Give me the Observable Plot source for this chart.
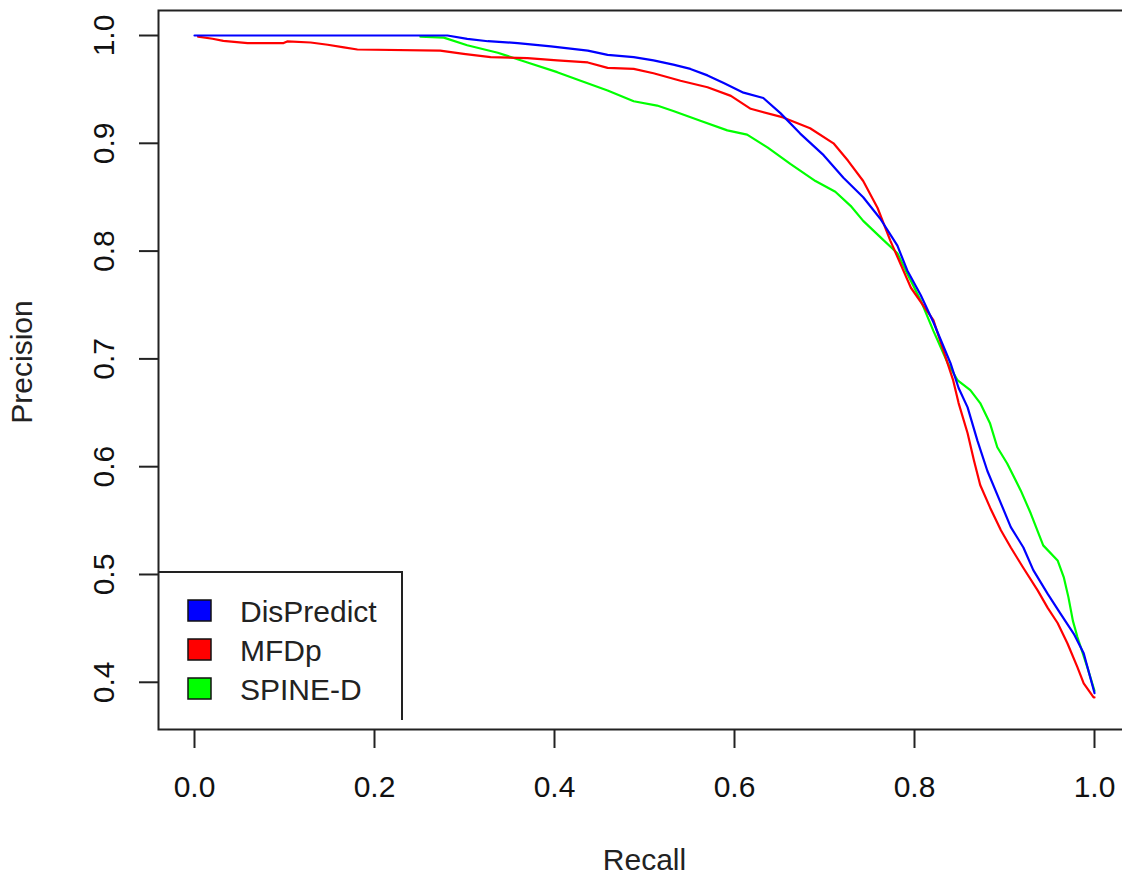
<!DOCTYPE html>
<html>
<head>
<meta charset="utf-8">
<script src="https://cdn.jsdelivr.net/npm/d3@7"></script>
<script src="https://cdn.jsdelivr.net/npm/@observablehq/plot@0.6"></script>
<style>
  html, body { margin: 0; padding: 0; overflow: hidden; background: white; }
  #wrap { position: relative; width: 1122px; height: 876px; overflow: hidden; }
  #wrap > svg { max-width: none !important; }
  #legend { position: absolute; left: 0; top: 0; pointer-events: none; }
</style>
</head>
<body>
<div id="wrap"></div>
<script>
// ---- data ----
const methods = ["DisPredict", "MFDp", "SPINE-D"];
const methodColors = ["#0000ff", "#ff0000", "#00ff00"];
const xTicks = [0, 0.2, 0.4, 0.6, 0.8, 1.0];
const yTicks = [0.4, 0.5, 0.6, 0.7, 0.8, 0.9, 1.0];

const disPredictRecall = [0, 0.281, 0.303, 0.326, 0.359, 0.396, 0.437, 0.459, 0.488, 0.510, 0.532, 0.551, 0.570, 0.588, 0.610, 0.632, 0.651, 0.673, 0.699, 0.721, 0.743, 0.762, 0.781, 0.792, 0.807, 0.821, 0.840, 0.849, 0.859, 0.870, 0.881, 0.896, 0.907, 0.921, 0.932, 0.948, 0.962, 0.977, 0.988, 1.0];
const disPredictPrecision = [1.0, 1.0, 0.9968, 0.9947, 0.993, 0.990, 0.986, 0.982, 0.980, 0.977, 0.973, 0.969, 0.963, 0.956, 0.947, 0.942, 0.928, 0.909, 0.889, 0.868, 0.850, 0.830, 0.805, 0.782, 0.759, 0.734, 0.696, 0.673, 0.655, 0.624, 0.596, 0.566, 0.544, 0.525, 0.504, 0.482, 0.464, 0.445, 0.427, 0.390];

const mfdpRecall = [0.004, 0.020, 0.032, 0.059, 0.099, 0.103, 0.129, 0.148, 0.166, 0.181, 0.273, 0.299, 0.329, 0.370, 0.403, 0.437, 0.459, 0.488, 0.510, 0.540, 0.570, 0.596, 0.618, 0.654, 0.684, 0.710, 0.726, 0.743, 0.759, 0.773, 0.796, 0.821, 0.843, 0.849, 0.859, 0.866, 0.873, 0.884, 0.896, 0.907, 0.921, 0.937, 0.948, 0.959, 0.970, 0.981, 0.988, 0.999, 1.0];
const mfdpPrecision = [0.999, 0.997, 0.995, 0.993, 0.993, 0.9945, 0.9935, 0.9914, 0.989, 0.987, 0.986, 0.983, 0.980, 0.979, 0.977, 0.975, 0.970, 0.969, 0.965, 0.958, 0.952, 0.944, 0.932, 0.924, 0.914, 0.900, 0.884, 0.865, 0.840, 0.810, 0.766, 0.736, 0.680, 0.659, 0.631, 0.606, 0.583, 0.562, 0.541, 0.525, 0.506, 0.485, 0.469, 0.455, 0.436, 0.414, 0.399, 0.386, 0.386];

const spineRecall = [0.251, 0.277, 0.303, 0.337, 0.370, 0.403, 0.429, 0.459, 0.488, 0.514, 0.532, 0.562, 0.592, 0.614, 0.637, 0.662, 0.690, 0.712, 0.729, 0.743, 0.762, 0.781, 0.792, 0.807, 0.821, 0.837, 0.848, 0.862, 0.873, 0.884, 0.892, 0.903, 0.918, 0.929, 0.943, 0.959, 0.966, 0.971, 0.976, 0.981, 0.992, 1.0];
const spinePrecision = [0.999, 0.998, 0.991, 0.984, 0.975, 0.966, 0.958, 0.949, 0.939, 0.935, 0.930, 0.921, 0.912, 0.908, 0.896, 0.881, 0.865, 0.855, 0.842, 0.828, 0.813, 0.798, 0.779, 0.754, 0.726, 0.696, 0.680, 0.671, 0.659, 0.640, 0.618, 0.603, 0.578, 0.557, 0.527, 0.513, 0.497, 0.479, 0.457, 0.442, 0.414, 0.392];

// ---- build tables ----
const toRows = (name, rs, ps) => rs.map((r, i) => ({method: name, recall: r, precision: ps[i]}));
const series = {
  "DisPredict": toRows("DisPredict", disPredictRecall, disPredictPrecision),
  "MFDp": toRows("MFDp", mfdpRecall, mfdpPrecision),
  "SPINE-D": toRows("SPINE-D", spineRecall, spinePrecision)
};

const font = "'Liberation Sans', Arial, Helvetica, sans-serif";
const fmt = d3.format(".1f");

const chart = Plot.plot({
  width: 1130,
  height: 876,
  marginLeft: 158,
  marginRight: 0,
  marginTop: 10,
  marginBottom: 147,
  x: {domain: [-0.04, 1.04]},
  y: {domain: [0.3562, 1.0232]},
  color: {domain: methods, range: methodColors},
  style: {fontFamily: font, color: "#000", background: "white", overflow: "visible", maxWidth: "none"},
  marks: [
    Plot.axisX({ticks: xTicks, tickSize: 19, tickPadding: 27, fontSize: 30, tickFormat: fmt, label: null, stroke: "#222", strokeWidth: 2, fill: "#111"}),
    Plot.axisY({ticks: yTicks, tickSize: 19, tickPadding: 26, tickRotate: -90, fontSize: 30, tickFormat: fmt, label: null, stroke: "#222", strokeWidth: 2, fill: "#111"}),
    Plot.line(series["SPINE-D"], {x: "recall", y: "precision", stroke: "method", strokeWidth: 2.2}),
    Plot.line(series["MFDp"], {x: "recall", y: "precision", stroke: "method", strokeWidth: 2.2}),
    Plot.line(series["DisPredict"], {x: "recall", y: "precision", stroke: "method", strokeWidth: 2.2}),
    Plot.frame({stroke: "#222", strokeWidth: 2}),
    Plot.text(["Recall"], {text: d => d, frameAnchor: "bottom", lineAnchor: "top", dy: 119, fontSize: 30, fill: "#222"}),
    Plot.text(["Precision"], {text: d => d, frameAnchor: "left", rotate: -90, lineAnchor: "middle", textAnchor: "middle", dx: -136, dy: -8, fontSize: 30, fill: "#222"})
  ]
});

const wrap = document.getElementById("wrap");
wrap.appendChild(chart);

// ---- legend overlay (R-style legend box) ----
const lg = d3.select(wrap).append("svg")
  .attr("id", "legend")
  .attr("width", 1122).attr("height", 876);
lg.append("path")
  .attr("d", "M158,572 H402 V720")
  .attr("fill", "none").attr("stroke", "#222").attr("stroke-width", 2);
const rowBase = [622, 661, 700];
methods.forEach((m, i) => {
  lg.append("rect")
    .attr("x", 188).attr("y", rowBase[i] - 22)
    .attr("width", 23).attr("height", 21)
    .attr("fill", methodColors[i]).attr("stroke", "#111").attr("stroke-width", 1.5);
  lg.append("text")
    .attr("x", 240).attr("y", rowBase[i])
    .attr("font-family", font).attr("font-size", 30).attr("fill", "#222")
    .text(m);
});
</script>
</body>
</html>
